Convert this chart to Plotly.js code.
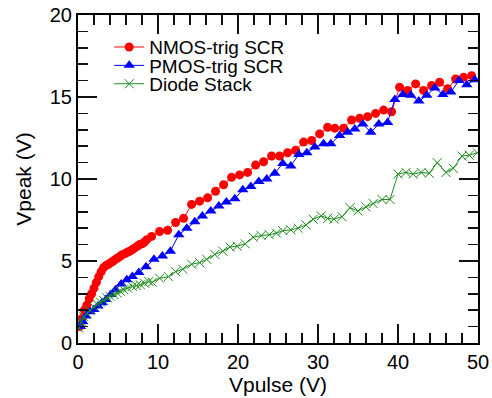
<!DOCTYPE html>
<html>
<head>
<meta charset="utf-8">
<script src="https://cdn.plot.ly/plotly-3.0.1.min.js"></script>
<style>html,body{margin:0;padding:0;background:#fff;}#chart{width:492px;height:398px;}</style>
</head>
<body>
<div id="chart"></div>
<script>
// NMOS-trig SCR
const nmosX = [0.2,0.5,0.8,1.1,1.4,1.7,2.0,2.3,2.6,2.9,3.2,3.5,3.8,4.1,4.4,4.7,5.0,5.3,5.6,5.9,6.2,6.5,6.8,7.1,7.4,7.7,8.0,8.3,8.6,9.2,10.2,11.2,12.2,13.2,14.2,15.2,16.2,17.2,18.2,19.2,20.2,21.2,22.2,23.2,24.2,25.2,26.2,27.2,28.2,29.2,30.2,31.2,32.1,33.2,34.2,35.2,36.2,37.2,38.2,39.2,40.2,41.2,42.2,43.2,44.2,45.2,46.2,47.2,48.2,49.2];
const nmosY = [1.0,1.5,2.0,2.3,2.7,3.0,3.35,3.7,4.05,4.35,4.6,4.72,4.8,4.9,5.0,5.1,5.2,5.3,5.4,5.45,5.55,5.6,5.7,5.8,5.9,6.0,6.05,6.15,6.3,6.5,6.8,6.87,7.35,7.6,8.45,8.65,8.85,9.25,9.65,10.1,10.25,10.4,10.85,11.05,11.4,11.4,11.6,11.75,12.25,12.35,12.75,13.15,13.1,13.1,13.6,13.7,13.8,14.0,14.2,14.1,15.6,15.4,15.8,15.4,15.7,15.9,15.5,16.1,16.2,16.3];
// PMOS-trig SCR
const pmosX = [0.3,0.6,1.0,1.5,2.0,2.5,3.0,3.5,4.1,4.7,5.4,6.1,6.8,7.6,8.5,9.5,10.55,11.55,12.6,13.6,14.6,15.55,16.6,17.6,18.55,19.6,20.6,21.6,22.6,23.6,24.6,25.6,26.6,27.6,28.6,29.6,30.7,31.6,32.7,33.7,34.6,35.6,36.6,37.6,38.7,39.6,40.6,41.6,42.6,43.6,44.6,45.6,46.6,47.6,48.6,49.6];
const pmosY = [1.0,1.3,1.65,1.9,2.05,2.25,2.45,2.65,2.95,3.25,3.6,3.85,4.05,4.3,4.65,5.1,5.3,5.6,6.6,7.0,7.4,7.75,8.05,8.35,8.6,8.8,9.35,9.55,9.85,10.0,10.35,10.95,10.8,11.5,11.6,11.95,12.15,12.15,12.65,12.85,13.05,13.35,12.85,13.35,13.45,14.85,15.15,15.1,14.75,15.1,15.55,15.15,15.3,16.0,15.75,16.05];
// Diode Stack
const diodeX = [0.1,0.4,0.7,1.1,1.5,2.0,2.4,2.8,3.2,3.6,4.0,4.5,4.9,5.3,5.7,6.2,6.8,7.3,7.8,8.3,8.85,9.3,10.2,11.3,12.2,13.1,14.2,15.2,16.1,17.1,18.1,19.0,19.9,20.9,21.9,22.9,23.9,24.8,25.6,26.6,27.5,28.5,29.4,30.4,31.2,32.0,33.0,34.0,35.0,36.0,36.9,38.0,39.0,40.0,41.0,41.9,42.9,43.9,44.9,46.0,46.9,48.0,48.9,49.9];
const diodeY = [0.9,1.3,1.6,1.8,2.0,2.2,2.35,2.5,2.6,2.75,2.85,2.95,3.05,3.15,3.25,3.35,3.45,3.5,3.55,3.65,3.75,3.7,3.95,4.05,4.35,4.5,4.8,4.9,5.1,5.4,5.6,5.85,5.9,6.05,6.45,6.55,6.6,6.7,6.85,6.9,7.0,7.2,7.55,7.75,7.6,7.55,7.7,8.25,8.05,8.3,8.5,8.75,8.75,10.3,10.4,10.3,10.4,10.35,11.0,10.4,10.65,11.4,11.45,11.6];

const names = ["NMOS-trig SCR", "PMOS-trig SCR", "Diode Stack"];
const xTicks = [0,10,20,30,40,50];
const yTicks = [0,5,10,15,20];

const FONT = "Liberation Sans, Arial, sans-serif";

const traces = [
  {x: nmosX, y: nmosY, name: names[0], type: "scatter", mode: "lines+markers",
   line: {color: "#ff0000", width: 1}, marker: {symbol: "circle", size: 9, color: "#ff0000"}, legend: "legend"},
  {x: pmosX, y: pmosY, name: names[1], type: "scatter", mode: "lines+markers",
   line: {color: "#0000ff", width: 1}, marker: {symbol: "triangle-up", size: 10, color: "#0000ff"}, legend: "legend2"},
  {x: diodeX, y: diodeY, name: names[2], type: "scatter", mode: "lines+markers",
   line: {color: "#1e8c1e", width: 1}, marker: {symbol: "x-thin-open", size: 9, color: "#1e8c1e", line: {color: "#1e8c1e", width: 1}}, legend: "legend3"}
];

function leg(y) {
  return {x: 0.078, y: y, xanchor: "left", yanchor: "middle", bgcolor: "rgba(0,0,0,0)",
          font: {family: FONT, size: 19, color: "#000"}, itemwidth: 30, tracegroupgap: 0};
}

const axisCommon = {
  showline: true, linecolor: "#000", linewidth: 2, mirror: "ticks",
  ticks: "inside", ticklen: 19, tickwidth: 1.5, tickcolor: "#111",
  showgrid: false, zeroline: false,
  tickfont: {family: FONT, size: 20, color: "#000"}
};

const layout = {
  width: 492, height: 398,
  margin: {l: 78, r: 14, t: 15, b: 55},
  paper_bgcolor: "#fff", plot_bgcolor: "#fff",
  showlegend: true,
  legend: leg(0.902), legend2: leg(0.846), legend3: leg(0.79),
  xaxis: Object.assign({}, axisCommon, {
    range: [0, 50], tickvals: xTicks, ticktext: xTicks.map(String),
    minor: {dtick: 2, ticklen: 10, tickwidth: 1.5, tickcolor: "#111", ticks: "inside"},
    title: {text: "Vpulse (V)", font: {family: FONT, size: 21, color: "#000"}, standoff: 4}
  }),
  yaxis: Object.assign({}, axisCommon, {
    range: [0, 20], tickvals: yTicks, ticktext: yTicks.map(String),
    minor: {dtick: 1, ticklen: 10, tickwidth: 1.5, tickcolor: "#111", ticks: "inside"},
    title: {text: "Vpeak (V)", font: {family: FONT, size: 21, color: "#000"}, standoff: 12}
  })
};

Plotly.newPlot("chart", traces, layout, {displayModeBar: false, staticPlot: true});
</script>
</body>
</html>
